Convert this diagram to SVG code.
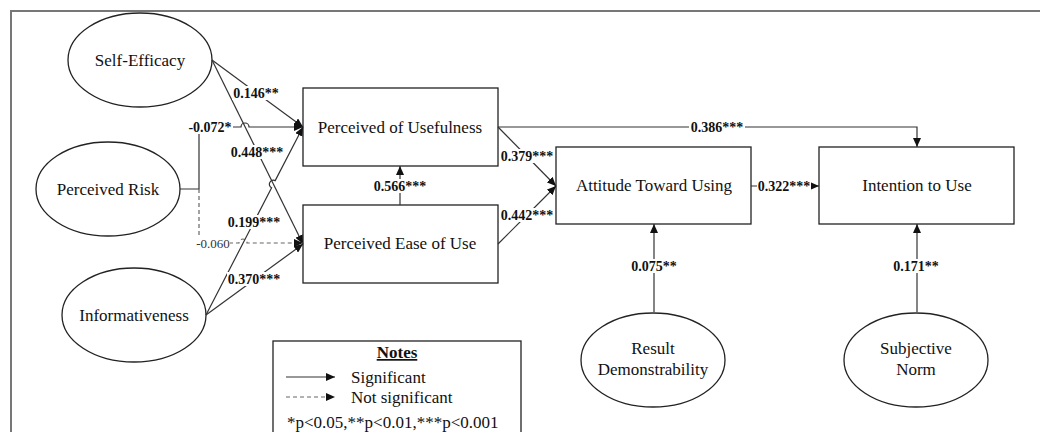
<svg xmlns="http://www.w3.org/2000/svg" width="1040" height="432" viewBox="0 0 1040 432">
<style>
.n{fill:#fff;stroke:#222;stroke-width:1.3}
.t{font-family:"Liberation Serif","Times New Roman",serif;font-size:17px;fill:#111;text-anchor:middle}
.l{font-family:"Liberation Serif","Times New Roman",serif;font-size:14px;font-weight:bold;fill:#111;text-anchor:middle}
.s{fill:none;stroke:#333;stroke-width:1.2}
.d{fill:none;stroke:#666;stroke-width:1.2;stroke-dasharray:4 3}
.bg{fill:#fff}
</style>
<defs>
<marker id="ah" markerUnits="userSpaceOnUse" markerWidth="10" markerHeight="8" refX="9" refY="4" orient="auto">
<path d="M0,0 L9,4 L0,8 z" fill="#111"/>
</marker>
</defs>
<rect x="11" y="11" width="1040" height="430" fill="none" stroke="#777" stroke-width="2"/>

<g id="self-efficacy"><ellipse class="n" cx="140" cy="60" rx="72" ry="47"/><text class="t" x="140" y="66">Self-Efficacy</text></g>
<g id="perceived-risk"><ellipse class="n" cx="108" cy="189" rx="72" ry="47"/><text class="t" x="108" y="195">Perceived Risk</text></g>
<g id="informativeness"><ellipse class="n" cx="134" cy="315" rx="72" ry="47"/><text class="t" x="134" y="321">Informativeness</text></g>
<g id="pu"><rect class="n" x="303" y="88" width="195" height="78"/><text class="t" x="400" y="133">Perceived of Usefulness</text></g>
<g id="peou"><rect class="n" x="303" y="205" width="195" height="78"/><text class="t" x="400" y="249">Perceived Ease of Use</text></g>
<g id="attitude"><rect class="n" x="556" y="147" width="195" height="77"/><text class="t" x="654" y="191">Attitude Toward Using</text></g>
<g id="intention"><rect class="n" x="819" y="147" width="195" height="77"/><text class="t" x="917" y="191">Intention to Use</text></g>
<g id="result"><ellipse class="n" cx="653" cy="360" rx="72" ry="47"/><text class="t" x="653" y="354">Result</text><text class="t" x="653" y="375">Demonstrability</text></g>
<g id="subjective"><ellipse class="n" cx="916" cy="360" rx="72" ry="47"/><text class="t" x="916" y="354">Subjective</text><text class="t" x="916" y="375">Norm</text></g>

<g id="connectors">
<path class="s" d="M212,60 L303,127" marker-end="url(#ah)"/>
<path class="s" d="M212,60 L303,244" marker-end="url(#ah)"/>
<path class="s" d="M180,189 H199 V127 H241 A4,4 0 0 1 249,127 H303" marker-end="url(#ah)"/>
<path class="d" d="M199,189 V243 H239 A4,4 0 0 1 247,243 H303" marker-end="url(#ah)"/>
<path class="s" d="M206,315 L271.6,187.8 A4,4 0 0 1 275.2,180.6 L303,127" marker-end="url(#ah)"/>
<path class="s" d="M206,315 L303,244" marker-end="url(#ah)"/>
<path class="s" d="M400,205 V166" marker-end="url(#ah)"/>
<path class="s" d="M498,127 L556,186" marker-end="url(#ah)"/>
<path class="s" d="M498,244 L556,186" marker-end="url(#ah)"/>
<path class="s" d="M498,127 H917 V147" marker-end="url(#ah)"/>
<path class="s" d="M751,186 H819" marker-end="url(#ah)"/>
<path class="s" d="M654,312 V224" marker-end="url(#ah)"/>
<path class="s" d="M917,312 V224" marker-end="url(#ah)"/>

<rect class="bg" x="232" y="86" width="49" height="14"/><text class="l" x="256" y="98">0.146**</text>
<rect class="bg" x="187" y="120" width="46" height="14"/><text class="l" x="210" y="132">-0.072*</text>
<rect class="bg" x="229" y="145" width="55" height="14"/><text class="l" x="257" y="157">0.448***</text>
<rect class="bg" x="227" y="215" width="55" height="14"/><text class="l" x="254" y="227">0.199***</text>
<rect class="bg" x="196" y="237" width="34" height="13"/><text x="213" y="248" style="font-family:'Liberation Serif','Times New Roman',serif;font-size:13px;fill:#333;text-anchor:middle">-0.060</text>
<rect class="bg" x="227" y="272" width="55" height="14"/><text class="l" x="254" y="284">0.370***</text>
<rect class="bg" x="372" y="179" width="56" height="14"/><text class="l" x="400" y="191">0.566***</text>
<rect class="bg" x="499" y="149" width="55" height="14"/><text class="l" x="527" y="161">0.379***</text>
<rect class="bg" x="499" y="208" width="55" height="14"/><text class="l" x="527" y="220">0.442***</text>
<rect class="bg" x="689" y="120" width="56" height="14"/><text class="l" x="717" y="132">0.386***</text>
<rect class="bg" x="757" y="179" width="54" height="14"/><text class="l" x="784" y="191">0.322***</text>
<rect class="bg" x="630" y="259" width="48" height="14"/><text class="l" x="654" y="271">0.075**</text>
<rect class="bg" x="892" y="259" width="48" height="14"/><text class="l" x="916" y="271">0.171**</text>
</g>

<g id="notes">
<rect x="273" y="341" width="248" height="100" fill="#fff" stroke="#222" stroke-width="1.3"/>
<text class="t" x="397" y="358" font-weight="bold" text-decoration="underline">Notes</text>
<path class="s" d="M286,377 H335" marker-end="url(#ah)"/>
<path class="d" d="M286,397 H335" marker-end="url(#ah)"/>
<text class="t" x="351" y="383" style="text-anchor:start">Significant</text>
<text class="t" x="351" y="403" style="text-anchor:start">Not significant</text>
<text class="t" x="287" y="428" style="text-anchor:start">*p&lt;0.05,**p&lt;0.01,***p&lt;0.001</text>
</g>
</svg>
